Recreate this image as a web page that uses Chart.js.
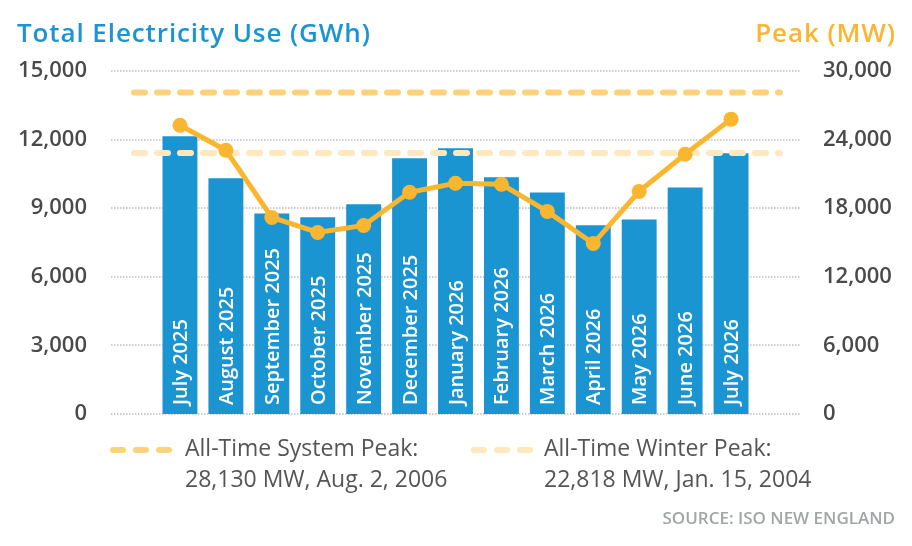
<!DOCTYPE html>
<html>
<head>
<meta charset="utf-8">
<script src="https://cdn.jsdelivr.net/npm/chart.js@4.4.1/dist/chart.umd.min.js"></script>
<style>
  html, body { margin: 0; padding: 0; background: #fff; }
  #wrap { position: relative; width: 912px; height: 546px; font-family: "Open Sans", sans-serif; overflow: hidden; }
  #wrap canvas { position: absolute; left: 0; top: 0; }
  .title { position: absolute; top: 17px; font-size: 26px; line-height: 30px; font-weight: 600; letter-spacing: 0.9px; white-space: nowrap; }
  .title.left { left: 17px; color: #1b94d2; }
  .title.right { right: 16px; color: #fbb532; }
  .legend { position: absolute; top: 432px; font-size: 23px; line-height: 31px; color: #555; white-space: nowrap; }
  .dash { position: absolute; top: 447px; height: 6px; display: flex; gap: 7px; }
  .dash span { width: 16px; height: 6px; border-radius: 3px; display: block; }
  .source { position: absolute; right: 17px; top: 508px; font-size: 17px; line-height: 20px; font-weight: 600; color: #a0a6a6; white-space: nowrap; }
</style>
</head>
<body>
<div id="wrap">
  <canvas id="chart"></canvas>
  <div class="title left">Total Electricity Use (GWh)</div>
  <div class="title right">Peak (MW)</div>
  <div class="dash" style="left:110px"><span style="background:#fdd27b"></span><span style="background:#fdd27b"></span><span style="background:#fdd27b"></span></div>
  <div class="legend" style="left:185px">All-Time System Peak:<br>28,130 MW, Aug. 2, 2006</div>
  <div class="dash" style="left:471px"><span style="background:#fee8bc"></span><span style="background:#fee8bc"></span><span style="background:#fee8bc"></span></div>
  <div class="legend" style="left:544px">All-Time Winter Peak:<br>22,818 MW, Jan. 15, 2004</div>
  <div class="source">SOURCE: ISO NEW ENGLAND</div>
</div>
<script>
const months = ['July 2025', 'August 2025', 'September 2025', 'October 2025', 'November 2025', 'December 2025',
  'January 2026', 'February 2026', 'March 2026', 'April 2026', 'May 2026', 'June 2026', 'July 2026'];
const energyGWh = [12150, 10310, 8770, 8600, 9170, 11180, 11620, 10350, 9690, 8250, 8510, 9910, 11400];
const peakMW = [25260, 23070, 17190, 15880, 16490, 19390, 20180, 20090, 17720, 14910, 19470, 22720, 25790];
const energyTicks = [0, 3000, 6000, 9000, 12000, 15000];
const peakTicks = [0, 6000, 12000, 18000, 24000, 30000];
const refPeaks = [28130, 22818];
const refColors = ['#fdd27b', '#fee8bc'];

const BLUE = '#1b94d2';
const GOLD = '#fbb630';

Chart.defaults.font.family = '"Open Sans", sans-serif';

const fmt = (v) => Number(v).toLocaleString('en-US');

// fixed axis width; drop the extra top/bottom padding the big tick padding would add
const fixAxis = (w) => (s) => {
  s.width = w;
  s.paddingTop = 0;
  s.paddingBottom = 0;
};

// dotted horizontal grid, a bit wider than the bar area
const dottedGrid = {
  id: 'dottedGrid',
  beforeDatasetsDraw(chart) {
    const { ctx, chartArea } = chart;
    const y = chart.scales.y;
    ctx.save();
    ctx.strokeStyle = '#bdbdbd';
    ctx.lineWidth = 1.5;
    ctx.setLineDash([1.5, 1.5]);
    y.ticks.forEach((t) => {
      const py = Math.round(y.getPixelForValue(t.value));
      ctx.beginPath();
      ctx.moveTo(chartArea.left - 46, py);
      ctx.lineTo(chartArea.right + 46, py);
      ctx.stroke();
    });
    ctx.restore();
  }
};

// all-time peak reference lines, drawn over the bars but under the peak line
const peakRefs = {
  id: 'peakRefs',
  beforeDatasetDraw(chart, args) {
    if (chart.data.datasets[args.index].type !== 'line') return;
    const { ctx, chartArea } = chart;
    const y1 = chart.scales.y1;
    ctx.save();
    ctx.lineWidth = 6;
    ctx.lineCap = 'round';
    ctx.setLineDash([11, 12]);
    refPeaks.forEach((v, i) => {
      const py = y1.getPixelForValue(v);
      ctx.strokeStyle = refColors[i];
      ctx.beginPath();
      ctx.moveTo(chartArea.left - 23, py);
      ctx.lineTo(chartArea.right + 26, py);
      ctx.stroke();
    });
    ctx.restore();
  }
};

// month names written upward inside each bar
const barLabels = {
  id: 'barLabels',
  afterDatasetDraw(chart, args) {
    if (chart.data.datasets[args.index].type !== 'bar') return;
    const { ctx } = chart;
    ctx.save();
    ctx.fillStyle = '#fff';
    ctx.font = '600 20px "Open Sans"';
    ctx.textAlign = 'left';
    ctx.textBaseline = 'alphabetic';
    args.meta.data.forEach((bar, i) => {
      ctx.save();
      ctx.translate(bar.x, bar.base - 9);
      ctx.rotate(-Math.PI / 2);
      ctx.fillText(months[i], 0, 7);
      ctx.restore();
    });
    ctx.restore();
  }
};

new Chart(document.getElementById('chart'), {
  data: {
    labels: months,
    datasets: [
      {
        type: 'line',
        label: 'Peak (MW)',
        data: peakMW,
        yAxisID: 'y1',
        borderColor: GOLD,
        backgroundColor: GOLD,
        borderWidth: 5,
        pointRadius: 7.5,
        pointBorderWidth: 0,
        pointBackgroundColor: GOLD,
        tension: 0,
        order: 1
      },
      {
        type: 'bar',
        label: 'Total Electricity Use (GWh)',
        data: energyGWh,
        yAxisID: 'y',
        backgroundColor: BLUE,
        barPercentage: 0.76,
        categoryPercentage: 1,
        order: 2
      }
    ]
  },
  options: {
    responsive: true,
    maintainAspectRatio: false,
    animation: false,
    layout: { padding: { top: 71, bottom: 132, left: 0, right: 0 } },
    plugins: { legend: { display: false }, tooltip: { enabled: false } },
    scales: {
      x: { display: false, offset: true },
      y: {
        position: 'left',
        min: 0,
        max: 15000,
        afterBuildTicks: (s) => { s.ticks = energyTicks.map((v) => ({ value: v })); },
        afterFit: fixAxis(157),
        grid: { display: false, drawTicks: false, tickLength: 0 },
        border: { display: false },
        ticks: { padding: 70, color: '#4a4a4a', font: { size: 22, weight: 600 }, callback: fmt }
      },
      y1: {
        position: 'right',
        min: 0,
        max: 30000,
        afterBuildTicks: (s) => { s.ticks = peakTicks.map((v) => ({ value: v })); },
        afterFit: fixAxis(158),
        grid: { display: false, drawTicks: false, tickLength: 0 },
        border: { display: false },
        ticks: { padding: 69, color: '#4a4a4a', font: { size: 22, weight: 600 }, callback: fmt }
      }
    }
  },
  plugins: [dottedGrid, peakRefs, barLabels]
});
</script>
</body>
</html>
